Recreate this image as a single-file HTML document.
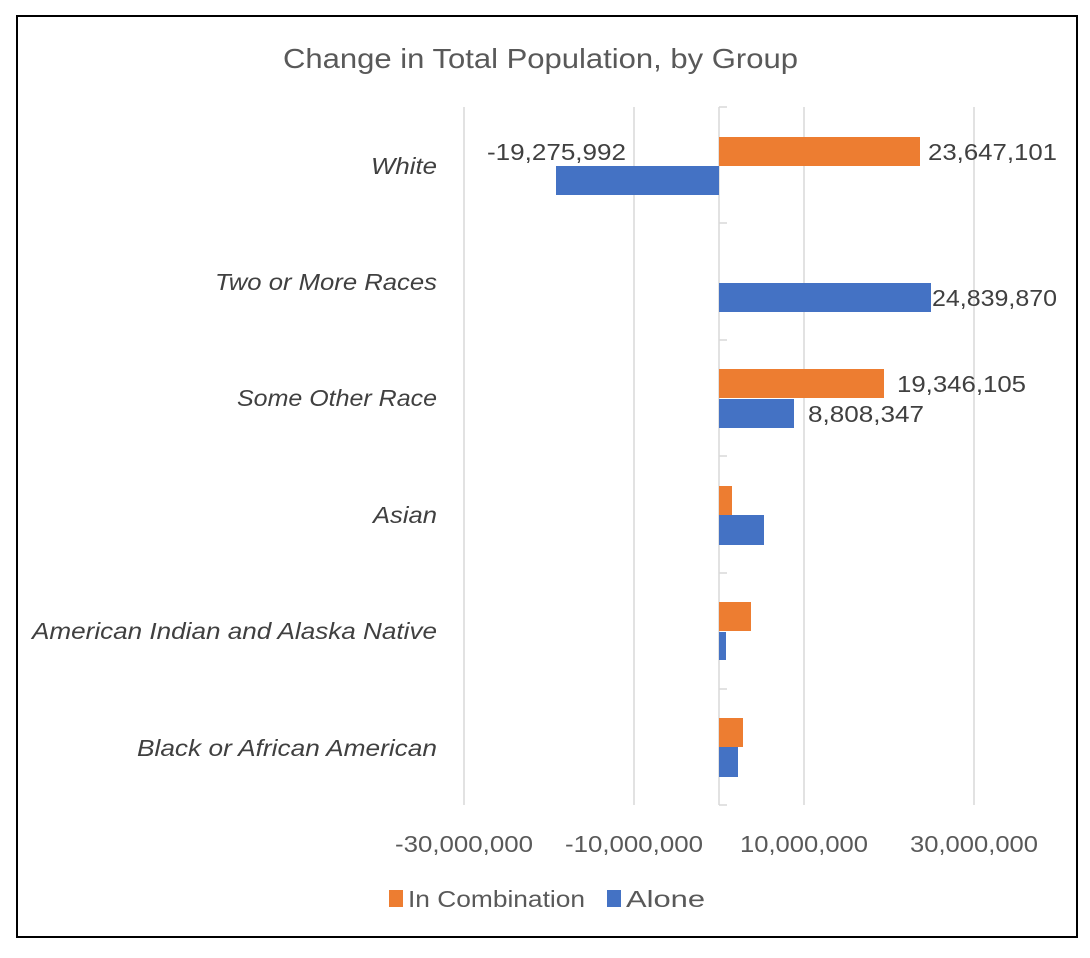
<!DOCTYPE html>
<html><head><meta charset="utf-8"><style>
body{margin:0;background:#fff;}
svg{display:block;font-family:"Liberation Sans",sans-serif;}
</style></head><body>
<svg width="1090" height="958" viewBox="0 0 1090 958">
<rect x="0" y="0" width="1090" height="958" fill="#fff"/>
<rect x="17" y="16" width="1060" height="921" fill="none" stroke="#000" stroke-width="2"/>
<text x="283" y="68" font-size="28" fill="#595959" textLength="515" lengthAdjust="spacingAndGlyphs">Change in Total Population, by Group</text>
<g stroke="#d9d9d9" stroke-width="1.5">
<line x1="464" y1="107" x2="464" y2="805"/>
<line x1="634" y1="107" x2="634" y2="805"/>
<line x1="804" y1="107" x2="804" y2="805"/>
<line x1="974" y1="107" x2="974" y2="805"/>
<line x1="719" y1="107" x2="719" y2="805"/>
<line x1="719" y1="107" x2="727" y2="107"/>
<line x1="719" y1="223" x2="727" y2="223"/>
<line x1="719" y1="340" x2="727" y2="340"/>
<line x1="719" y1="456" x2="727" y2="456"/>
<line x1="719" y1="573" x2="727" y2="573"/>
<line x1="719" y1="689" x2="727" y2="689"/>
<line x1="719" y1="805" x2="727" y2="805"/>
</g>
<g fill="#ed7d31">
<rect x="719" y="137" width="201" height="29"/>
<rect x="719" y="369" width="165" height="29"/>
<rect x="719" y="486" width="13" height="29"/>
<rect x="719" y="602" width="32" height="29"/>
<rect x="719" y="718" width="24" height="29"/>
</g>
<g fill="#4472c4">
<rect x="556" y="166" width="163" height="29"/>
<rect x="719" y="283" width="212" height="29"/>
<rect x="719" y="399" width="75" height="29"/>
<rect x="719" y="515" width="45" height="30"/>
<rect x="719" y="632" width="7" height="28"/>
<rect x="719" y="747" width="19" height="30"/>
</g>
<g font-size="23" fill="#404040" font-style="italic" lengthAdjust="spacingAndGlyphs">
<text x="371" y="174" textLength="66" lengthAdjust="spacingAndGlyphs">White</text>
<text x="215" y="290" textLength="222" lengthAdjust="spacingAndGlyphs">Two or More Races</text>
<text x="237" y="406" textLength="200" lengthAdjust="spacingAndGlyphs">Some Other Race</text>
<text x="373" y="523" textLength="64" lengthAdjust="spacingAndGlyphs">Asian</text>
<text x="32" y="639" textLength="405" lengthAdjust="spacingAndGlyphs">American Indian and Alaska Native</text>
<text x="137" y="756" textLength="300" lengthAdjust="spacingAndGlyphs">Black or African American</text>
</g>
<g font-size="23" fill="#404040">
<text x="487" y="160" textLength="139" lengthAdjust="spacingAndGlyphs">-19,275,992</text>
<text x="928" y="160" textLength="129" lengthAdjust="spacingAndGlyphs">23,647,101</text>
<text x="932" y="306" textLength="125" lengthAdjust="spacingAndGlyphs">24,839,870</text>
<text x="897" y="392" textLength="129" lengthAdjust="spacingAndGlyphs">19,346,105</text>
<text x="808" y="422" textLength="116" lengthAdjust="spacingAndGlyphs">8,808,347</text>
</g>
<g font-size="23" fill="#595959">
<text x="395" y="852" textLength="138" lengthAdjust="spacingAndGlyphs">-30,000,000</text>
<text x="565" y="852" textLength="138" lengthAdjust="spacingAndGlyphs">-10,000,000</text>
<text x="740" y="852" textLength="128" lengthAdjust="spacingAndGlyphs">10,000,000</text>
<text x="910" y="852" textLength="128" lengthAdjust="spacingAndGlyphs">30,000,000</text>
</g>
<rect x="389" y="890" width="14" height="17" fill="#ed7d31"/>
<text x="408" y="907" font-size="23" fill="#595959" textLength="177" lengthAdjust="spacingAndGlyphs">In Combination</text>
<rect x="607" y="890" width="14" height="17" fill="#4472c4"/>
<text x="626" y="907" font-size="23" fill="#595959" textLength="79" lengthAdjust="spacingAndGlyphs">Alone</text>
</svg>
</body></html>
